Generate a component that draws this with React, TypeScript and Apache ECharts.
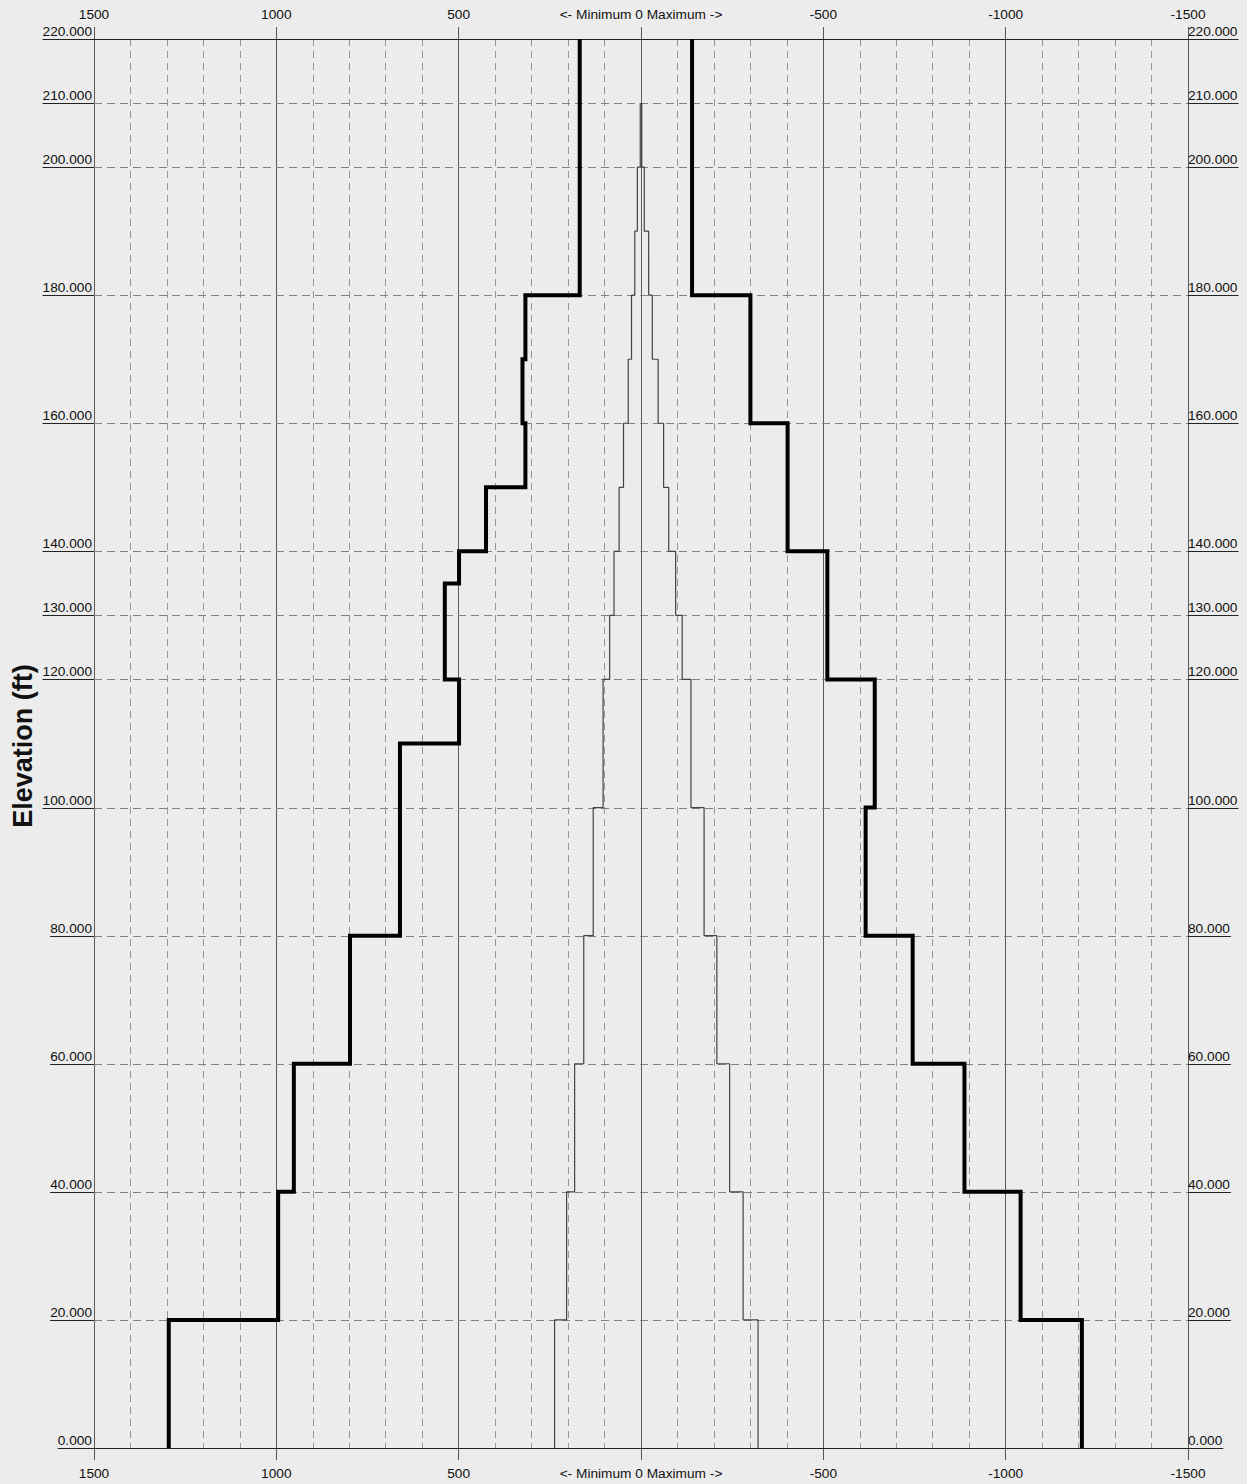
import React, { useEffect, useRef } from "react";
import * as echarts from "echarts";

// ---- Data ----
const X_MIN = -1500;
const X_MAX = 1500;
const Y_MIN = 0;
const Y_MAX = 220;
const X_INTERVAL = 500;

// Horizontal reference levels (labelled on both sides)
const yTickLevels = [0, 20, 40, 60, 80, 100, 120, 130, 140, 160, 180, 200, 210, 220];

// Thick envelope, left (positive) side: segment boundaries and values
const thickLeftElev = [0, 20, 40, 60, 80, 110, 120, 135, 140, 150, 160, 170, 180, 220];
const thickLeftVal = [1295, 995, 952, 798, 661, 499, 538, 499, 425, 317, 325, 317, 168];

// Thick envelope, right (negative) side
const thickRightElev = [0, 20, 40, 60, 80, 100, 120, 140, 160, 180, 220];
const thickRightVal = [-1209, -1041, -887, -745, -616, -641, -511, -402, -300, -140];

// Thin profile lines
const thinElev = [0, 20, 40, 60, 80, 100, 120, 130, 140, 150, 160, 170, 180, 190, 200, 210];
const thinLeftVal = [237, 204, 182, 157, 131, 104, 86, 74, 60, 48, 35, 26, 17, 10, 2];
const thinRightVal = [-321, -280, -243, -208, -173, -137, -113, -95, -76, -62, -47, -31, -21, -9, -2];

const FONT_FAMILY = 'Arial, "Liberation Sans", Helvetica, sans-serif';
const TICK_FONT_SIZE = 13.7;

function stepPoints(elev: number[], vals: number[]): number[][] {
  const pts: number[][] = [];
  for (let i = 0; i < vals.length; i++) {
    pts.push([vals[i], elev[i]]);
    pts.push([vals[i], elev[i + 1]]);
  }
  return pts;
}

let measureCtx: CanvasRenderingContext2D | null = null;
function textWidth(t: string): number {
  if (!measureCtx) {
    const c = document.createElement("canvas");
    measureCtx = c.getContext("2d");
  }
  if (!measureCtx) return t.length * 7;
  measureCtx.font = `${TICK_FONT_SIZE}px ${FONT_FAMILY}`;
  return measureCtx.measureText(t).width;
}

function xLabel(v: number): string {
  if (v === 0) return "<- Minimum 0 Maximum ->";
  return String(v);
}

export default function App() {
  const ref = useRef<HTMLDivElement>(null);

  useEffect(() => {
    if (!ref.current) return;
    const chart = echarts.init(ref.current, null, { renderer: "svg" });

    const axisCommon = {
      type: "value" as const,
      min: X_MIN,
      max: X_MAX,
      interval: X_INTERVAL,
      inverse: true,
      axisLine: { show: false },
      axisTick: { show: true, length: 12, inside: false, lineStyle: { color: "#555", width: 1 } },
      axisLabel: {
        margin: 18,
        fontSize: TICK_FONT_SIZE,
        color: "#111",
        fontFamily: FONT_FAMILY,
        formatter: xLabel,
        showMinLabel: true,
        showMaxLabel: true,
      },
    };

    const option: any = {
      animation: false,
      backgroundColor: "#ececec",
      grid: { left: 94, right: 59, top: 39, bottom: 36, containLabel: false },
      xAxis: [
        {
          ...axisCommon,
          position: "bottom",
          splitLine: { show: true, lineStyle: { color: "#5a5a5a", width: 1 } },
          minorTick: { show: false, splitNumber: 5 },
          minorSplitLine: { show: true, lineStyle: { color: "#959595", width: 1, type: [7, 5] } },
        },
        {
          ...axisCommon,
          position: "top",
          splitLine: { show: false },
        },
      ],
      yAxis: {
        type: "value",
        min: Y_MIN,
        max: Y_MAX,
        show: false,
      },
      graphic: [
        {
          type: "text",
          x: 23,
          y: 746,
          rotation: Math.PI / 2,
          style: {
            text: "Elevation (ft)",
            font: `bold 27px ${FONT_FAMILY}`,
            fill: "#111",
            align: "center",
            verticalAlign: "middle",
          },
        },
      ],
      series: [
        {
          type: "custom",
          xAxisIndex: 0,
          yAxisIndex: 0,
          clip: false,
          silent: true,
          z: 1,
          data: yTickLevels.map((v) => [0, v]),
          encode: { x: 0, y: 1 },
          renderItem: (params: any, api: any) => {
            const v = api.value(1);
            const pl = api.coord([X_MAX, v]);
            const pr = api.coord([X_MIN, v]);
            const txt = v.toFixed(3);
            const w = textWidth(txt);
            const edge = v === Y_MIN || v === Y_MAX;
            const y = Math.round(pl[1]) + 0.5;
            const children: any[] = [];
            const lineStyle: any = edge
              ? { stroke: "#1e1e1e", lineWidth: 1 }
              : { stroke: "#8a7d8a", lineWidth: 1, lineDash: [8, 5] };
            children.push({
              type: "line",
              shape: { x1: pl[0], y1: y, x2: pr[0], y2: y },
              style: lineStyle,
            });
            // left label + underline
            children.push({
              type: "text",
              x: pl[0] - 2,
              y: y - 1,
              style: {
                text: txt,
                align: "right",
                verticalAlign: "bottom",
                font: `${TICK_FONT_SIZE}px ${FONT_FAMILY}`,
                fill: "#111",
              },
            });
            children.push({
              type: "line",
              shape: { x1: pl[0] - 2 - w, y1: y, x2: pl[0], y2: y },
              style: { stroke: "#222", lineWidth: 1 },
            });
            // right label + underline
            children.push({
              type: "text",
              x: pr[0] + 0,
              y: y - 1,
              style: {
                text: txt,
                align: "left",
                verticalAlign: "bottom",
                font: `${TICK_FONT_SIZE}px ${FONT_FAMILY}`,
                fill: "#111",
              },
            });
            children.push({
              type: "line",
              shape: { x1: pr[0], y1: y, x2: pr[0] + 1 + w, y2: y },
              style: { stroke: "#222", lineWidth: 1 },
            });
            return { type: "group", children };
          },
        },
        {
          type: "line",
          name: "thin-left",
          xAxisIndex: 0,
          yAxisIndex: 0,
          data: stepPoints(thinElev, thinLeftVal),
          showSymbol: false,
          symbol: "none",
          silent: true,
          z: 3,
          lineStyle: { color: "#444", width: 1.2 },
        },
        {
          type: "line",
          name: "thin-right",
          xAxisIndex: 0,
          yAxisIndex: 0,
          data: stepPoints(thinElev, thinRightVal),
          showSymbol: false,
          symbol: "none",
          silent: true,
          z: 3,
          lineStyle: { color: "#444", width: 1.2 },
        },
        {
          type: "line",
          name: "envelope-left",
          xAxisIndex: 0,
          yAxisIndex: 0,
          data: stepPoints(thickLeftElev, thickLeftVal),
          showSymbol: false,
          symbol: "none",
          silent: true,
          z: 5,
          lineStyle: { color: "#000", width: 4, join: "miter", cap: "butt" },
        },
        {
          type: "line",
          name: "envelope-right",
          xAxisIndex: 0,
          yAxisIndex: 0,
          data: stepPoints(thickRightElev, thickRightVal),
          showSymbol: false,
          symbol: "none",
          silent: true,
          z: 5,
          lineStyle: { color: "#000", width: 4, join: "miter", cap: "butt" },
        },
      ],
    };

    chart.setOption(option);
    return () => {
      chart.dispose();
    };
  }, []);

  return (
    <div
      ref={ref}
      style={{ position: "absolute", left: 0, top: 0, width: 1247, height: 1484, background: "#ececec" }}
    />
  );
}
